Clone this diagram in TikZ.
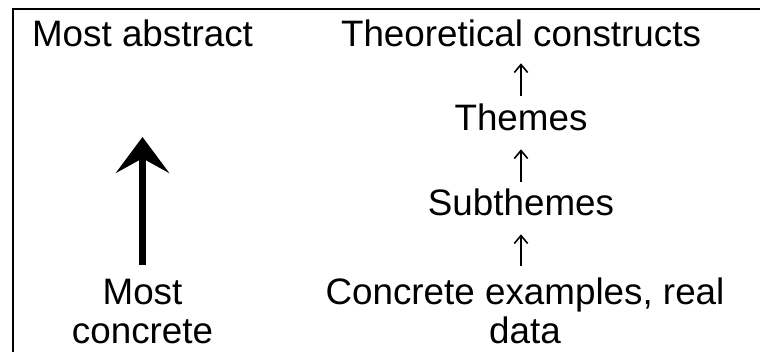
\documentclass[tikz,border=0pt]{standalone}
\usepackage{fontspec}
\setmainfont{Liberation Sans}
\usetikzlibrary{arrows.meta}
\begin{document}
\begin{tikzpicture}[x=0.75pt,y=-0.75pt,
  txt/.style={inner sep=0pt, anchor=base, font=\fontsize{27.6pt}{29.25pt}\selectfont},
  oneline/.style={txt, text height=20pt, text depth=0pt},
  twoline/.style={txt, align=center},
  levelarrow/.style={line width=1.2pt, -{Straight Barb[length=6pt,width=10pt]}},
  bigarrow/.style={line width=5.5pt, -{Stealth[length=27pt,width=40pt,inset=11pt]}},
  frame/.style={line width=1.5pt}]
\useasboundingbox (0,0) rectangle (760,352);
% cell border (top and left edges)
\draw[frame] (760,9) -- (13,9) -- (13,352);
% left column: scale of abstraction (two-line nodes sit on their last baseline)
\node[oneline] (abs) at (142.5,47) {Most abstract};
\node[twoline] (conc) at (142.5,344) {Most\\concrete};
\coordinate (tip) at (142.5,137);
\draw[bigarrow, shorten <=11pt] (conc.north) -- (tip);
% right column: levels of analysis
\node[oneline] (tc) at (521,47) {Theoretical constructs};
\node[oneline] (th) at (521,131) {Themes};
\node[oneline] (sub) at (521,216) {Subthemes};
\node[twoline] (ce) at (525,344) {Concrete examples, real\\data};
\draw[levelarrow, shorten <=6.2pt, shorten >=12pt] (th.north) -- (tc.south);
\draw[levelarrow, shorten <=5.5pt, shorten >=13.5pt] (sub.north) -- (th.south);
\draw[levelarrow, shorten <=8.7pt, shorten >=13.5pt] (ce.north -| sub.south) -- (sub.south);
\end{tikzpicture}
\end{document}
